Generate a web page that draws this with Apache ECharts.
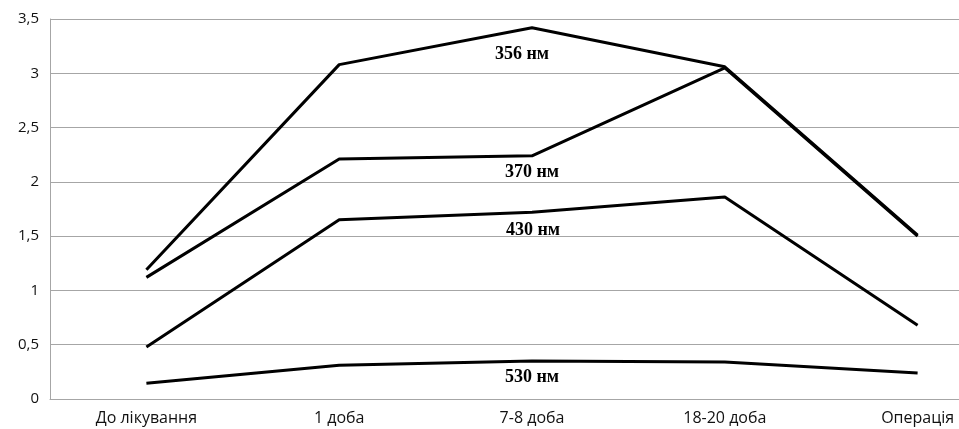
<!DOCTYPE html>
<html><head><meta charset="utf-8">
<script src="https://cdn.jsdelivr.net/npm/echarts@6/dist/echarts.min.js"></script>
<style>html,body{margin:0;padding:0;background:#fff}#c{width:959px;height:429px}</style>
</head><body><div id="c"></div>
<script>
var categories = ['До лікування', '1 доба', '7-8 доба', '18-20 доба', 'Операція'];
var s356 = [1.19, 3.08, 3.42, 3.06, 1.51];
var s370 = [1.12, 2.21, 2.24, 3.05, 1.50];
var s430 = [0.48, 1.65, 1.72, 1.86, 0.68];
var s530 = [0.145, 0.31, 0.35, 0.34, 0.24];
var seriesNames = ['356 нм', '370 нм', '430 нм', '530 нм'];
var labelY = [3.17, 2.09, 1.55, 0.2];
var yTicks = [0, 0.5, 1, 1.5, 2, 2.5, 3, 3.5];

var chart = echarts.init(document.getElementById('c'));
var all = [s356, s370, s430, s530];
var labelDx = [-10, 0, 1, 0];
var series = all.map(function (d, i) {
  return {
    type: 'line', name: seriesNames[i], data: d, symbol: 'none',
    lineStyle: { color: '#000', width: 3 }, z: 3,
    markPoint: {
      symbol: 'circle', symbolSize: 0,
      data: [{ coord: ['7-8 доба', labelY[i]] }],
      label: {
        show: true, position: 'inside', formatter: seriesNames[i], offset: [labelDx[i], 0],
        fontFamily: 'Liberation Serif', fontWeight: 'bold', fontSize: 18, color: '#000'
      }
    }
  };
});
chart.setOption({
  animation: false,
  grid: { left: 50, top: 19, right: -55, bottom: 30, outerBoundsMode: 'none', containLabel: false },
  xAxis: {
    type: 'category', data: categories, boundaryGap: true,
    axisLine: { show: true, lineStyle: { color: '#a6a6a6', width: 1 } },
    axisTick: { show: false },
    axisLabel: { color: '#111', fontFamily: 'Open Sans', fontSize: 16, margin: 11 }
  },
  yAxis: {
    type: 'value', min: 0, max: 3.5, interval: 0.5,
    axisLine: { show: true, lineStyle: { color: '#a6a6a6', width: 1 } },
    axisTick: { show: false },
    splitLine: { lineStyle: { color: '#a6a6a6', width: 1 } },
    axisLabel: {
      color: '#111', fontFamily: 'Open Sans', fontSize: 15, margin: 11,
      formatter: function (v) { return String(v).replace('.', ','); }
    }
  },
  series: series
});
</script></body></html>
